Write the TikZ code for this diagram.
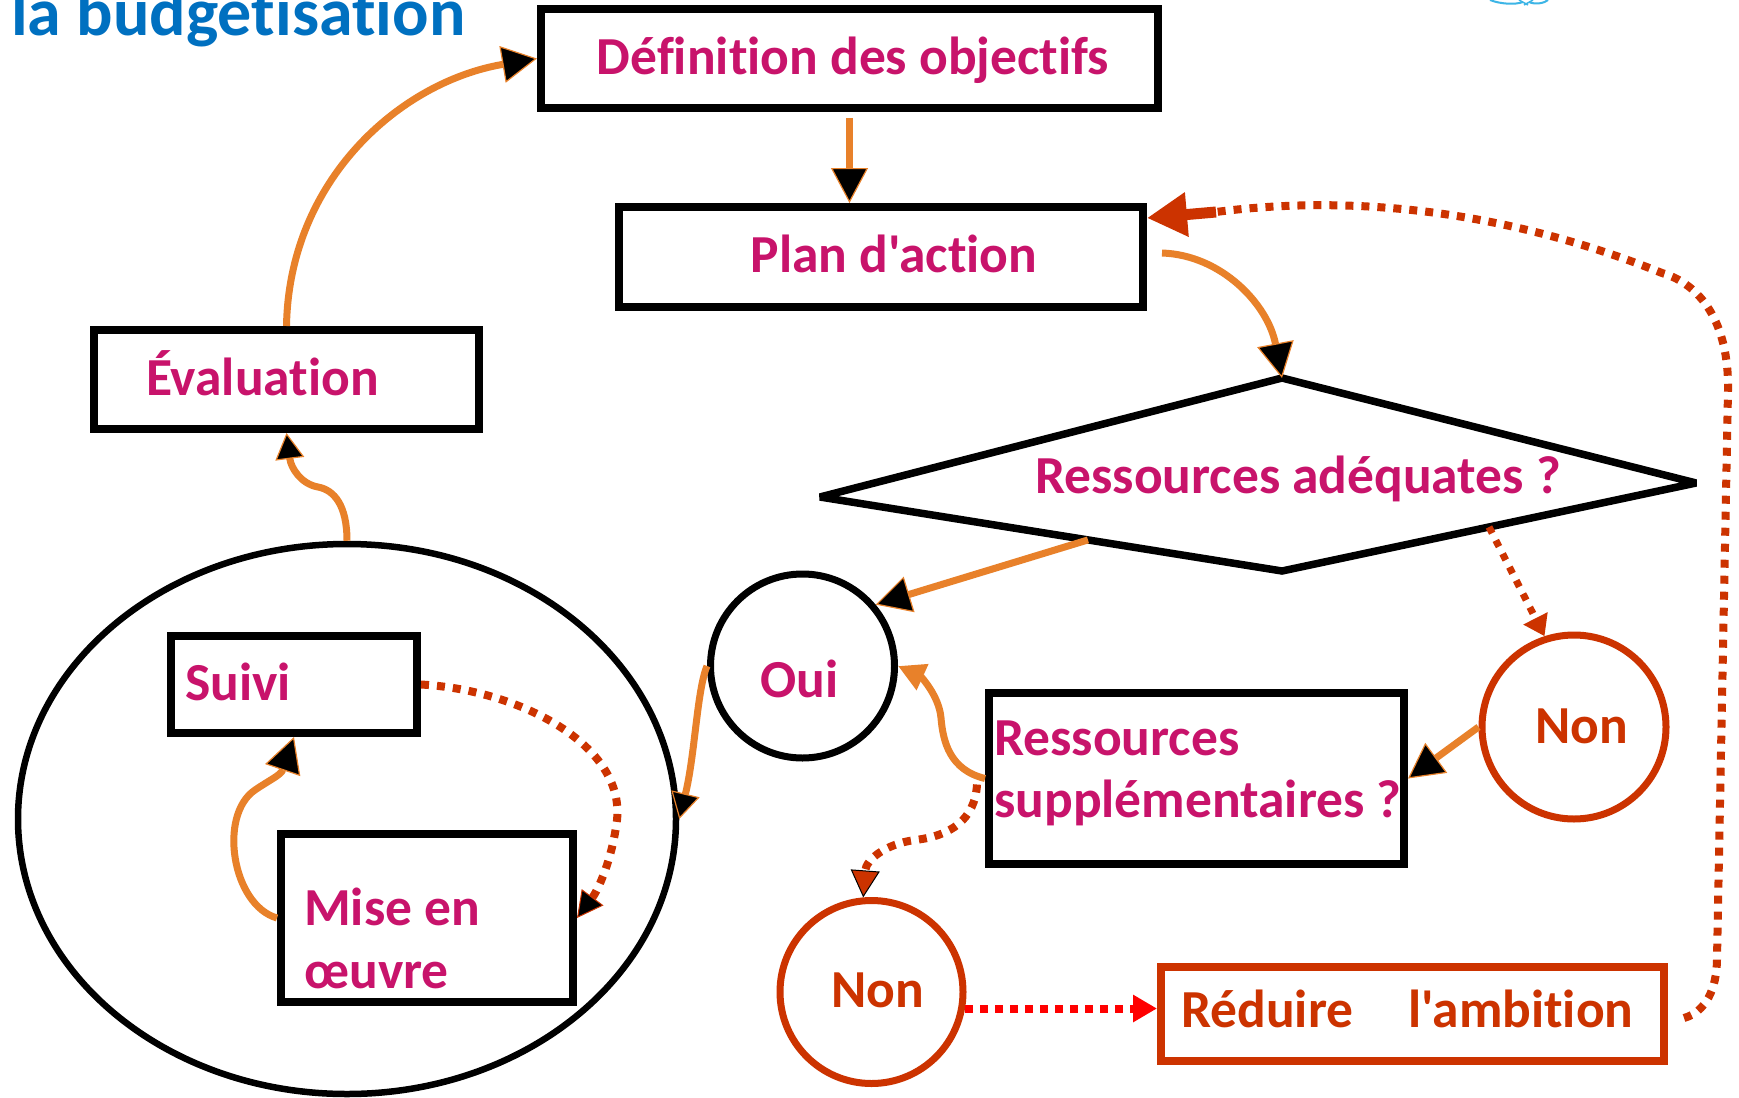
\documentclass[tikz,border=0pt]{standalone}
\usepackage{fontspec}
\setmainfont{Carlito}[Ligatures={TeXOff,CommonOff}]
\usetikzlibrary{arrows.meta,calc,shapes.geometric}
\definecolor{magT}{HTML}{C8136B}
\definecolor{orgL}{HTML}{E8812A}
\definecolor{redO}{HTML}{CC3300}
\definecolor{bluT}{HTML}{0070C0}
\definecolor{ltblue}{HTML}{3DB5E6}
\begin{document}
\begin{tikzpicture}[x=1pt,y=-1pt,
  box/.style={draw=black, line width=8pt, rectangle, inner sep=0pt},
  rbox/.style={draw=redO, line width=8pt, rectangle, inner sep=0pt},
  txt/.style={font=\bfseries\fontsize{53.5}{62}\selectfont, text=magT, inner sep=0pt},
  rtxt/.style={txt, text=redO},
  oline/.style={draw=orgL, line width=7pt},
  dline/.style={draw=redO, line width=8pt, dash pattern=on 8pt off 8pt},
  ktip/.style={-{Triangle[length=35pt,width=37pt,fill=black,color=orgL,line width=1.2pt]}},
  kstip/.style={-{Triangle[length=26pt,width=29pt,fill=black,color=orgL,line width=1.2pt]}}
]
\useasboundingbox (0,0) rectangle (1739,1097);
\fill[white] (0,0) rectangle (1739,1097);

% title and logo fragment
\node[anchor=base west, font=\bfseries\fontsize{68}{74}\selectfont, text=bluT, inner sep=0pt] (title) at (11,36) {la budgetisation};
\draw[ltblue, line width=2pt] (1490,0) .. controls (1500,4) and (1515,5) .. (1523,2);
\draw[ltblue, line width=2pt] (1529,2) .. controls (1535,5) and (1545,3) .. (1548,0);
\draw[ltblue, line width=1.5pt] (1519,0) -- (1528,5) (1533,0) -- (1524,5);

% boxes
\node[box, minimum width=617pt, minimum height=99pt] (def) at (849.5,58.5) {};
\node[box, minimum width=524pt, minimum height=100pt] (plan) at (881,257) {};
\node[box, minimum width=385pt, minimum height=99pt] (evl) at (286.5,379.5) {};
\node[box, minimum width=246pt, minimum height=97pt] (suivi) at (294,684.5) {};
\node[box, minimum width=292pt, minimum height=168pt] (mo) at (427,918) {};
\node[box, minimum width=415pt, minimum height=171pt] (rs) at (1196.5,778.5) {};
\node[rbox, minimum width=503pt, minimum height=94pt] (red) at (1412.5,1014) {};

% circles and ellipse
\node[circle, draw=black, line width=7pt, minimum size=184pt, inner sep=0pt] (oui) at (802.5,666) {};
\node[circle, draw=redO, line width=7pt, minimum size=184pt, inner sep=0pt] (nonR) at (1574,727) {};
\node[circle, draw=redO, line width=7pt, minimum size=183pt, inner sep=0pt] (nonB) at (871.5,992) {};
\node[ellipse, draw=black, line width=6.5pt, minimum width=658pt, minimum height=550pt, inner sep=0pt] (ell) at (347,819) {};

% diamond
\coordinate (dL) at (820,497);
\coordinate (dT) at (1282,378);
\coordinate (dR) at (1696,483);
\coordinate (dB) at (1282,571);
\draw[black, line width=7.5pt, line join=miter, miter limit=3] (dL) -- (dT) -- (dR) -- (dB) -- cycle;

% texts
\node[txt, anchor=base] (defT) at (853,75) {Définition des objectifs};
\node[txt, anchor=base] (planT) at (894,272) {Plan d'action};
\node[txt, anchor=base west] (evlT) at (146,395) {Évaluation};
\node[txt, anchor=base] (dTxt) at (1298,493) {Ressources adéquates ?};
\node[txt, anchor=base west] (suiviT) at (185,700) {Suivi};
\node[txt, anchor=base west] (moT1) at (304,925) {Mise en};
\node[txt, anchor=base west] (moT2) at (304,988) {œuvre};
\node[txt, anchor=base west] (rsT1) at (994,755) {Ressources};
\node[txt, anchor=base west] (rsT2) at (994,817) {supplémentaires ?};
\node[txt, anchor=base] (ouiT) at (799.5,697) {Oui};
\node[rtxt, anchor=base] (nonRT) at (1582,743) {Non};
\node[rtxt, anchor=base] (nonBT) at (878,1007) {Non};
\node[rtxt, anchor=base west] (redT) at (1181,1027) {Réduire\hspace{55pt}l'ambition};

% connectors
\draw[oline, ktip] (evl.north) .. controls (289,180) and (400,82) .. (def.west);
\draw[oline, ktip] ([yshift=-6pt]def.south) -- (def.south |- plan.north);
\draw[oline, ktip] ($(plan.east)+(15,-4)$) .. controls (1222,255) and (1268,305) .. (dT);

\coordinate (loopEnd) at (1216,212);
\draw[dline] ($(red.east)+(16,4)$) .. controls (1705,1012) and (1717,990) .. (1717,958)
  -- (1728,390) .. controls (1729,322) and (1700,284) .. (1662,273)
  .. controls (1560,232) and (1400,188) .. (loopEnd);
\draw[draw=redO, line width=11pt, -{Triangle[length=40pt,width=42pt]}] (loopEnd) -- ($(plan.north east)+(0,15)$);

\coordinate (dOui) at ($(dL)!0.58!(dB)$);
\draw[oline, ktip] (dOui) -- (oui.40);

\coordinate (dNon) at ($(dB)!0.5!(dR)$);
\draw[draw=redO, line width=7pt, dash pattern=on 7pt off 8pt, -{Triangle[length=20pt,width=26pt]}] (dNon) -- (nonR.108);

\draw[oline, ktip] (nonR.180) -- (rs.east);

\draw[oline, -{Triangle[length=27pt,width=27pt]}] (rs.west) .. controls (950,770) and (943,742) .. (941,718)
  .. controls (939,695) and (920,676) .. (oui.east);

\draw[dline, -{Triangle[length=27pt,width=29pt,fill=redO,color=black,line width=1pt]}] ($(rs.west)+(-8,6)$)
  .. controls (975,820) and (950,836) .. (915,840) .. controls (885,844) and (866,860) .. (nonB.95);

\draw[draw=red, line width=8pt, dash pattern=on 8pt off 7pt, -{Triangle[length=24pt,width=26pt]}] (nonB.-10) -- (nonB.-10 -| red.west);

\draw[oline, kstip] (oui.180)
  .. controls (697,690) and (695,755) .. (ell.east);

\draw[oline, kstip] (ell.north) .. controls (347,505) and (334,490) .. (318,487)
  .. controls (301,484) and (291,468) .. (evl.south);

\draw[oline, ktip] (mo.west) .. controls (232,905) and (218,815) .. (255,790)
  .. controls (268,781) and (281,775) .. (suivi.south);

\draw[dline, -{Triangle[length=26pt,width=27pt,fill=black,color=redO,line width=1pt]}] (suivi.east)
  .. controls (520,690) and (625,745) .. (617,820) .. controls (612,860) and (598,890) .. (mo.east);
\end{tikzpicture}
\end{document}
